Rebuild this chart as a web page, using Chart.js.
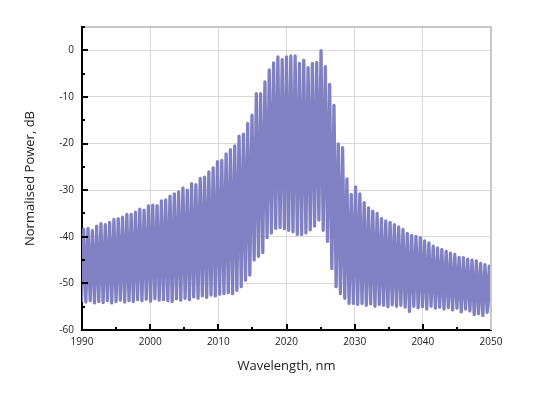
<!DOCTYPE html>
<html><head><meta charset="utf-8">
<script src="https://cdn.jsdelivr.net/npm/chart.js@4.4.1/dist/chart.umd.min.js"></script>
<style>html,body{margin:0;padding:0;background:#fff;}#wrap{width:546px;height:399px;}</style>
</head><body><div id="wrap"><canvas id="c" width="546" height="399"></canvas></div>
<script>
// Axis tick labels
const xTickLabels = [1990, 2000, 2010, 2020, 2030, 2040, 2050];
const yTickLabels = [0, -10, -20, -30, -40, -50, -60];
// Comb spectrum: peak wavelengths on a uniform grid
const firstPeakNm = 1990.25;
const peakSpacingNm = 0.633;
// Peak (maxima) powers, dB
const peakValues = [-38.4,-38.2,-38.7,-37.7,-37.2,-37.4,-36.9,-36.3,-36.1,-35.8,
-35.2,-35.2,-34.7,-34.1,-34.3,-33.4,-33.2,-33.3,-32.3,-32.1,
-31.3,-30.8,-30.4,-29.5,-30.0,-28.6,-28.8,-27.5,-27.2,-26.1,
-25.2,-23.9,-23.6,-22.2,-21.3,-20.5,-18.4,-18.0,-15.7,-13.9,
-9.3,-9.3,-6.8,-4.2,-2.7,-1.4,-2.0,-1.4,-1.2,-1.2,
-2.8,-2.1,-3.7,-2.8,-2.6,-0.1,-3.5,-7.3,-11.8,-20.1,
-20.9,-27.6,-30.9,-29.3,-30.8,-32.7,-33.8,-34.5,-35.0,-36.1,
-36.6,-36.9,-37.4,-37.9,-38.4,-39.3,-39.7,-39.9,-40.2,-40.9,
-41.3,-42.0,-42.4,-42.7,-43.1,-43.5,-43.8,-44.4,-44.5,-44.8,
-45.0,-45.2,-45.7,-46.0,-46.3];
// Trough (minima) powers, dB (one before the first peak, then one after each peak)
const troughValues = [-53.7,-54.0,-53.7,-54.2,-53.9,-54.1,-53.7,-54.2,-53.9,-53.6,
-54.0,-53.7,-53.9,-53.5,-53.7,-53.4,-53.8,-53.3,-53.6,-53.5,
-53.7,-53.9,-53.3,-53.6,-53.2,-53.5,-52.9,-53.2,-52.7,-53.0,
-52.5,-52.7,-52.3,-52.2,-52.0,-52.2,-51.5,-50.7,-49.3,-48.2,
-45.0,-44.2,-43.4,-40.2,-39.2,-38.2,-38.0,-38.3,-38.6,-38.9,
-39.5,-39.5,-39.2,-38.5,-37.7,-36.4,-38.6,-41.0,-46.8,-50.7,
-52.2,-53.2,-54.3,-54.3,-54.5,-54.3,-54.7,-54.4,-54.9,-54.5,
-54.7,-55.0,-54.6,-54.9,-54.7,-55.1,-56.0,-54.9,-55.2,-55.0,
-55.5,-54.9,-55.3,-55.1,-55.5,-55.2,-55.7,-55.3,-56.1,-55.5,
-55.9,-56.7,-56.5,-56.9,-56.2,-56.5];

const points = [];
for (let k = 0; k < troughValues.length; k++) {
  points.push({x: firstPeakNm + (k - 0.5) * peakSpacingNm, y: troughValues[k]});
  if (k < peakValues.length) points.push({x: firstPeakNm + k * peakSpacingNm, y: peakValues[k]});
}

const FONT = "'Open Sans', 'Noto Sans', sans-serif";

const framePlugin = {
  id: 'frame',
  afterDraw(chart) {
    const {ctx, chartArea: a, scales: {x, y}} = chart;
    ctx.save();
    ctx.strokeStyle = '#c8c8c8';
    ctx.lineWidth = 2;
    ctx.beginPath();
    ctx.moveTo(a.left, a.top); ctx.lineTo(a.right, a.top); ctx.lineTo(a.right, a.bottom);
    ctx.stroke();
    ctx.strokeStyle = '#000';
    ctx.lineWidth = 2;
    ctx.beginPath();
    for (let v = x.min; v <= x.max + 1e-9; v += 5) {
      if (v === x.min || v === x.max) continue;
      const px = Math.round(x.getPixelForValue(v));
      const len = (Math.round(v) % 10 === 0) ? 6 : 3;
      ctx.moveTo(px, a.bottom); ctx.lineTo(px, a.bottom - len);
    }
    for (let v = -55; v <= y.max + 1e-9; v += 5) {
      const py = Math.round(y.getPixelForValue(v));
      const len = (v % 10 === 0) ? 6 : 3;
      ctx.moveTo(a.left, py); ctx.lineTo(a.left + len, py);
    }
    ctx.stroke();
    ctx.restore();
  }
};

new Chart(document.getElementById('c'), {
  type: 'line',
  data: {
    datasets: [{
      data: points,
      borderColor: '#8080c2',
      borderWidth: 3.3,
      borderJoinStyle: 'round',
      borderCapStyle: 'round',
      pointRadius: 0,
      tension: 0,
      fill: false
    }]
  },
  options: {
    responsive: false,
    animation: false,
    devicePixelRatio: 1,
    layout: {padding: {left: 0, right: 55, top: 27, bottom: 0}},
    plugins: {legend: {display: false}, tooltip: {enabled: false}},
    scales: {
      x: {
        type: 'linear',
        min: xTickLabels[0], max: xTickLabels[xTickLabels.length - 1],
        afterFit(s) { s.height = 69; },
        afterBuildTicks(s) { s.ticks = xTickLabels.map(v => ({value: v})); },
        ticks: {
          font: {family: FONT, size: 10}, color: '#222', padding: 6.5,
          maxRotation: 0, autoSkip: false,
          callback: v => String(v)
        },
        grid: {color: '#d8d8d8', lineWidth: 1, drawTicks: false},
        border: {color: '#000', width: 2},
        title: {display: true, text: 'Wavelength, nm', font: {family: FONT, size: 13}, color: '#222', padding: {top: 0, bottom: 25}}
      },
      y: {
        type: 'linear',
        min: -60, max: 5,
        afterFit(s) { s.width = 82; },
        afterBuildTicks(s) { s.ticks = yTickLabels.map(v => ({value: v})); },
        ticks: {
          font: {family: FONT, size: 10}, color: '#222', padding: 8,
          callback: v => String(v)
        },
        grid: {color: '#d8d8d8', lineWidth: 1, drawTicks: false},
        border: {color: '#000', width: 2},
        title: {display: true, text: 'Normalised Power, dB', font: {family: FONT, size: 13}, color: '#222', padding: {top: 22, bottom: 0}}
      }
    }
  },
  plugins: [framePlugin]
});
</script>
</body></html>
